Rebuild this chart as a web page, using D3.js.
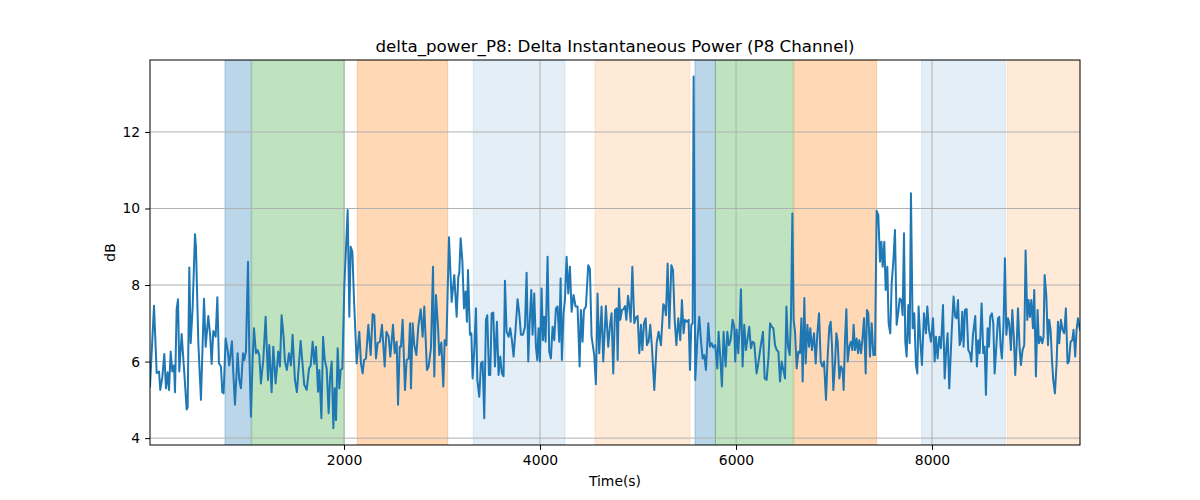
<!DOCTYPE html>
<html>
<head>
<meta charset="utf-8">
<script src="https://cdn.jsdelivr.net/npm/d3@7"></script>
<style>
  html, body { margin: 0; padding: 0; background: #fff; }
  svg { display: block; font-family: "DejaVu Sans", sans-serif; }
</style>
</head>
<body>
<svg id="chart" width="1200" height="500"></svg>
<script>
// ---------- data ----------
const chartTitle = "delta_power_P8: Delta Instantaneous Power (P8 Channel)";
const xLabel = "Time(s)";
const yLabel = "dB";
const xTicks = [2000, 4000, 6000, 8000];
const yTicks = [4, 6, 8, 10, 12];
const xDomain = [20, 9510];
const yDomain = [3.82, 13.88];

// shaded intervals: start, end, kind
const spanStarts = [785, 1058, 2135, 3319, 4561, 5581, 5789, 6591, 7894, 8768];
const spanEnds   = [1052, 2003, 3058, 4255, 5530, 5789, 6584, 7435, 8748, 9510];
const spanKinds  = ["blue", "green", "orange", "lightblue", "lightorange",
                    "blue", "green", "orange", "lightblue", "lightorange"];

// [time (s), power (dB)]
const powerSamples = [
[20,5.35],[61,7.46],[88,5.7],[112,5.74],[125,5.26],[146,5.6],[166,6.2],[183,5.3],[200,5.72],[214,5.26],
[231,6.26],[248,5.74],[265,5.9],[275,5.2],[292,7.37],[306,7.63],[319,5.74],[343,6.72],[370,5.7],[394,4.75],
[404,4.8],[421,8.46],[435,6.48],[455,7.4],[479,9.33],[489,9.0],[513,6.5],[540,5.0],[571,7.64],[588,6.39],
[615,7.19],[635,6.65],[649,5.94],[666,6.8],[690,6.65],[707,7.68],[724,5.95],[744,5.87],[758,5.2],[771,5.17],
[792,6.6],[812,6.3],[829,5.9],[856,6.53],[870,5.7],[887,4.87],[914,6.22],[931,5.52],[948,5.3],[969,6.22],
[982,6.04],[999,6.26],[1020,8.61],[1033,6.3],[1050,4.56],[1067,6.04],[1081,6.87],[1101,6.22],[1118,6.3],[1135,6.17],
[1152,5.43],[1176,6.04],[1200,7.17],[1224,5.52],[1237,6.43],[1261,5.2],[1278,6.39],[1302,5.43],[1329,6.26],[1346,5.87],
[1363,7.21],[1383,6.65],[1397,6.0],[1417,5.78],[1438,6.22],[1458,5.9],[1475,6.7],[1499,5.52],[1519,5.2],[1557,6.54],
[1594,5.39],
[1619,5.26],[1643,5.82],[1660,5.9],[1680,6.52],[1697,5.94],[1714,6.39],[1735,5.21],[1748,5.78],[1769,4.52],[1786,6.65],
[1803,6.04],[1823,5.82],[1843,4.65],[1857,5.56],[1874,6.0],[1891,4.26],[1905,5.3],[1918,4.47],[1935,6.35],[1952,5.3],
[1966,5.78],[1983,5.82],[2003,7.96],[2037,9.96],[2054,7.17],[2068,9.0],[2085,8.87],[2102,7.61],[2129,5.95],[2156,6.78],
[2173,5.95],[2190,5.69],[2204,6.04],[2224,6.08],[2248,6.96],[2272,6.17],[2292,7.24],[2309,7.21],[2326,6.08],[2343,6.48],
[2367,6.52],[2387,6.96],[2401,6.43],[2415,5.87],[2432,6.78],[2455,6.65],[2472,6.13],[2500,6.96],[2517,6.22],[2537,6.52],
[2551,4.87],[2568,6.39],[2581,6.39],[2598,7.09],[2622,5.26],[2639,6.04],[2659,6.08],[2673,7.0],[2683,5.3],[2700,7.0],
[2717,6.43],[2738,6.17],[2758,6.92],[2782,7.37],[2802,6.65],[2819,7.44],[2846,5.78],[2863,5.87],[2887,6.35],[2908,8.48],
[2921,5.61],[2938,7.74],[2959,6.91],[2972,6.17],[2993,6.5],[3013,5.35],[3027,6.56],[3044,6.43],[3071,9.25],[3098,7.56],
[3125,8.26],[3149,7.17],[3166,8.22],
[3176,8.31],[3190,9.22],[3207,8.65],[3224,7.39],[3241,7.83],[3254,7.04],[3265,8.39],[3285,6.7],[3299,6.74],[3312,5.56],
[3329,6.3],[3346,7.39],[3360,5.52],[3380,5.08],[3397,5.95],[3414,6.0],[3431,4.52],[3448,7.09],[3462,7.21],[3479,5.65],
[3492,5.65],[3506,7.26],[3523,7.28],[3540,5.87],[3560,7.04],[3577,5.65],[3594,6.13],[3611,5.69],[3628,5.62],[3642,8.11],
[3659,6.78],[3679,6.65],[3696,6.87],[3713,6.56],[3730,6.13],[3751,6.87],[3771,7.63],[3788,7.26],[3805,6.7],[3826,6.7],
[3846,6.91],[3863,8.32],[3880,6.0],[3894,7.0],[3911,7.87],[3924,6.7],[3941,7.78],[3958,6.39],[3972,6.04],[3985,6.87],
[3999,6.0],[4016,7.91],[4030,6.56],[4043,7.17],[4057,6.52],[4077,8.74],[4094,6.26],[4111,6.08],[4128,6.91],[4145,6.56],
[4162,7.39],[4179,7.44],[4196,6.52],[4210,8.17],[4223,6.04],[4240,7.26],[4254,7.61],[4271,8.74],[4288,7.78],[4305,8.48],
[4322,7.3],[4342,7.74],[4363,7.44],[4383,7.44],[4404,5.87],[4417,7.35],[4434,6.52],[4448,7.35],[4468,7.44],[4492,8.52],
[4509,8.43],[4526,6.65],[4553,6.17],[4570,5.41],[4587,7.78],[4604,6.22],[4628,7.44],[4645,6.0],[4672,7.45],[4696,6.39],
[4716,7.0],[4730,7.26],[4747,5.69],
[4765,7.35],[4782,7.39],[4792,6.04],[4806,7.91],[4819,7.09],[4836,7.35],[4853,7.37],[4867,7.45],[4881,7.09],[4898,7.72],
[4911,7.44],[4925,7.04],[4942,8.48],[4962,7.0],[4979,7.15],[4996,7.19],[5013,6.22],[5030,6.96],[5044,6.3],[5061,7.0],
[5078,7.13],[5091,6.43],[5108,6.52],[5125,6.96],[5142,6.37],[5166,5.26],[5190,6.48],[5210,6.78],[5234,6.43],[5258,7.5],
[5272,7.45],[5285,7.21],[5302,8.56],[5319,6.87],[5340,8.52],[5357,8.39],[5374,7.09],[5391,6.43],[5411,7.13],[5431,6.56],
[5448,7.61],[5465,6.74],[5479,7.09],[5499,7.04],[5516,7.09],[5530,5.78],[5544,6.96],[5557,7.0],[5567,13.45],[5584,5.52],
[5605,6.56],[5625,7.17],[5642,6.56],[5659,6.08],[5676,6.17],[5693,5.78],[5717,7.0],[5734,6.39],[5751,6.48],[5768,6.37],
[5788,6.43],[5809,5.82],[5822,6.78],[5839,6.13],[5856,5.35],[5873,6.78],[5894,5.87],[5911,6.78],[5928,6.43],[5945,6.56],
[5965,7.09],[5982,6.91],[5992,6.0],[6006,6.84],[6023,6.22],[6037,6.91],[6050,7.89],[6067,5.87],[6084,6.96],[6101,6.3],
[6118,6.6],[6135,6.91],[6152,6.35],[6169,6.52],[6186,6.48],[6210,5.69],[6227,5.95],[6251,6.39],[6275,6.78],[6292,5.56],
[6312,5.52],[6332,6.13],
[6347,7.0],[6364,6.91],[6381,6.87],[6398,6.43],[6415,6.3],[6432,6.26],[6449,5.48],[6466,6.0],[6483,5.78],[6500,5.56],
[6514,7.44],[6531,6.39],[6548,6.17],[6561,7.17],[6575,9.87],[6588,7.09],[6602,6.78],[6619,5.82],[6636,6.26],[6653,6.22],
[6667,7.13],[6680,5.48],[6697,7.66],[6711,5.95],[6728,6.96],[6745,6.39],[6758,6.87],[6775,6.3],[6796,6.74],[6813,5.95],
[6830,6.74],[6847,7.26],[6864,6.0],[6881,5.87],[6898,6.0],[6918,5.0],[6935,6.13],[6952,6.91],[6966,7.04],[6979,6.43],
[6993,5.26],[7010,5.95],[7024,6.74],[7037,6.52],[7054,5.56],[7071,5.87],[7088,5.78],[7098,5.26],[7112,6.56],[7126,7.37],
[7139,6.0],[7156,6.39],[7173,6.52],[7187,6.3],[7200,6.96],[7214,6.3],[7231,6.6],[7245,6.22],[7258,6.56],[7275,6.22],
[7289,6.56],[7306,7.13],[7323,5.69],[7336,7.35],[7350,7.26],[7367,6.13],[7384,7.0],[7401,6.17],[7418,6.17],[7435,9.94],
[7452,9.83],[7469,8.61],[7483,9.13],[7496,8.48],[7513,9.13],[7527,7.87],[7544,8.48],[7557,7.0],[7574,6.74],[7588,8.04],
[7605,8.61],[7622,9.44],[7639,6.96],[7656,7.3],[7670,7.65],[7687,7.61],[7700,7.21],[7714,9.35],[7727,6.52],[7741,6.13],
[7758,7.48],[7772,6.48],[7785,10.4],[7802,6.87],[7819,7.26],[7836,5.91],[7850,5.69],[7863,7.44],[7880,6.56],[7897,5.91],
[7918,7.26],
[7938,6.74],[7952,7.44],[7969,6.83],[7989,6.52],[8010,7.13],[8027,6.0],[8040,6.65],[8057,6.08],[8074,6.65],[8091,6.35],
[8112,7.48],[8129,5.56],[8146,6.35],[8159,6.74],[8176,5.3],[8200,6.74],[8220,7.7],[8237,7.17],[8251,7.13],[8265,7.61],
[8282,6.43],[8295,6.56],[8309,7.3],[8322,6.39],[8336,7.35],[8353,7.37],[8370,6.3],[8387,6.22],[8401,6.0],[8418,6.7],
[8441,7.19],[8458,5.87],[8472,6.56],[8486,6.22],[8506,7.52],[8523,6.22],[8537,6.39],[8550,5.13],[8567,6.87],[8581,6.39],
[8594,7.17],[8611,7.26],[8625,7.0],[8639,5.69],[8656,6.39],[8673,7.13],[8686,7.17],[8700,6.39],[8713,6.08],[8730,7.0],
[8744,8.7],[8758,6.7],[8775,7.13],[8788,7.0],[8805,6.3],[8819,7.35],[8836,6.56],[8849,5.65],[8863,6.39],[8877,7.39],
[8894,6.35],[8907,5.91],[8924,6.3],[8941,6.43],[8955,8.9],[8972,7.09],[8985,7.61],[8999,7.17],[9013,7.61],[9030,6.87],
[9043,7.87],[9060,5.61],[9077,7.35],[9091,6.48],[9108,6.65],[9125,6.48],[9138,6.65],[9149,8.26],[9166,7.74],[9183,6.43],
[9196,7.09],[9210,6.83],[9224,6.04],[9237,5.52],[9254,5.17],[9271,5.95],[9285,7.04],[9298,6.48],[9315,7.09],[9332,6.83],
[9349,6.74],[9366,7.39],[9383,5.95],[9397,6.0],[9414,6.52],[9431,6.56],[9444,6.83],[9461,6.13],[9475,6.83],[9489,7.13],
[9510,6.83]
];

// ---------- styling ----------
const spanStyle = {
  blue:        { color: "#1f77b4", alpha: 0.3 },
  green:       { color: "#2ca02c", alpha: 0.3 },
  orange:      { color: "#ff7f0e", alpha: 0.3 },
  lightblue:   { color: "#1f77b4", alpha: 0.12 },
  lightorange: { color: "#ff7f0e", alpha: 0.16 }
};

const margin = { left: 150, right: 120, top: 60, bottom: 55 };
const W = 1200, H = 500;
const iw = W - margin.left - margin.right;
const ih = H - margin.top - margin.bottom;

const svg = d3.select("#chart");
const x = d3.scaleLinear().domain(xDomain).range([0, iw]);
const y = d3.scaleLinear().domain(yDomain).range([ih, 0]);

const g = svg.append("g").attr("transform", `translate(${margin.left},${margin.top})`);

g.append("clipPath").attr("id", "clip")
  .append("rect").attr("width", iw).attr("height", ih);

// spans
const spans = spanStarts.map((s, i) => ({ s, e: spanEnds[i], k: spanKinds[i] }));
g.append("g").attr("clip-path", "url(#clip)")
  .selectAll("rect").data(spans).enter().append("rect")
  .attr("x", d => x(d.s))
  .attr("width", d => x(d.e) - x(d.s))
  .attr("y", 0).attr("height", ih)
  .attr("fill", d => spanStyle[d.k].color)
  .attr("fill-opacity", d => spanStyle[d.k].alpha)
  .attr("stroke", d => spanStyle[d.k].color)
  .attr("stroke-opacity", d => spanStyle[d.k].alpha)
  .attr("stroke-width", 1);

// grid
const grid = g.append("g");
grid.selectAll("line.gx").data(xTicks).enter().append("line")
  .attr("x1", d => x(d)).attr("x2", d => x(d))
  .attr("y1", 0).attr("y2", ih)
  .attr("stroke", "#b0b0b0").attr("stroke-width", 1);
grid.selectAll("line.gy").data(yTicks).enter().append("line")
  .attr("y1", d => y(d)).attr("y2", d => y(d))
  .attr("x1", 0).attr("x2", iw)
  .attr("stroke", "#b0b0b0").attr("stroke-width", 1);

// line
const line = d3.line().x(d => x(d[0])).y(d => y(d[1]));
g.append("path").datum(powerSamples)
  .attr("clip-path", "url(#clip)")
  .attr("d", line)
  .attr("fill", "none")
  .attr("stroke", "#1f77b4")
  .attr("stroke-width", 2)
  .attr("stroke-linejoin", "round")
  .attr("stroke-linecap", "square");

// axes
const xAxis = d3.axisBottom(x).tickValues(xTicks).tickSize(4.9).tickPadding(4.9).tickFormat(d3.format("d"));
const yAxis = d3.axisLeft(y).tickValues(yTicks).tickSize(4.9).tickPadding(4.9).tickFormat(d3.format("d"));

const gx = g.append("g").attr("transform", `translate(0,${ih})`).call(xAxis);
const gy = g.append("g").call(yAxis);
[gx, gy].forEach(a => {
  a.select(".domain").remove();
  a.selectAll("line").attr("stroke", "#000").attr("stroke-width", 1);
  a.selectAll("text").attr("fill", "#000").style("font-size", "13.9px")
    .style("font-family", "'DejaVu Sans', sans-serif");
});

// frame
g.append("rect").attr("width", iw).attr("height", ih)
  .attr("fill", "none").attr("stroke", "#000").attr("stroke-width", 1);

// labels
svg.append("text")
  .attr("x", margin.left + iw / 2).attr("y", 52)
  .attr("text-anchor", "middle")
  .style("font-size", "16.7px")
  .text(chartTitle);

svg.append("text")
  .attr("x", margin.left + iw / 2).attr("y", 486)
  .attr("text-anchor", "middle")
  .style("font-size", "13.9px")
  .text(xLabel);

svg.append("text")
  .attr("transform", `translate(115,${margin.top + ih / 2}) rotate(-90)`)
  .attr("text-anchor", "middle")
  .style("font-size", "13.9px")
  .text(yLabel);
</script>
</body>
</html>
